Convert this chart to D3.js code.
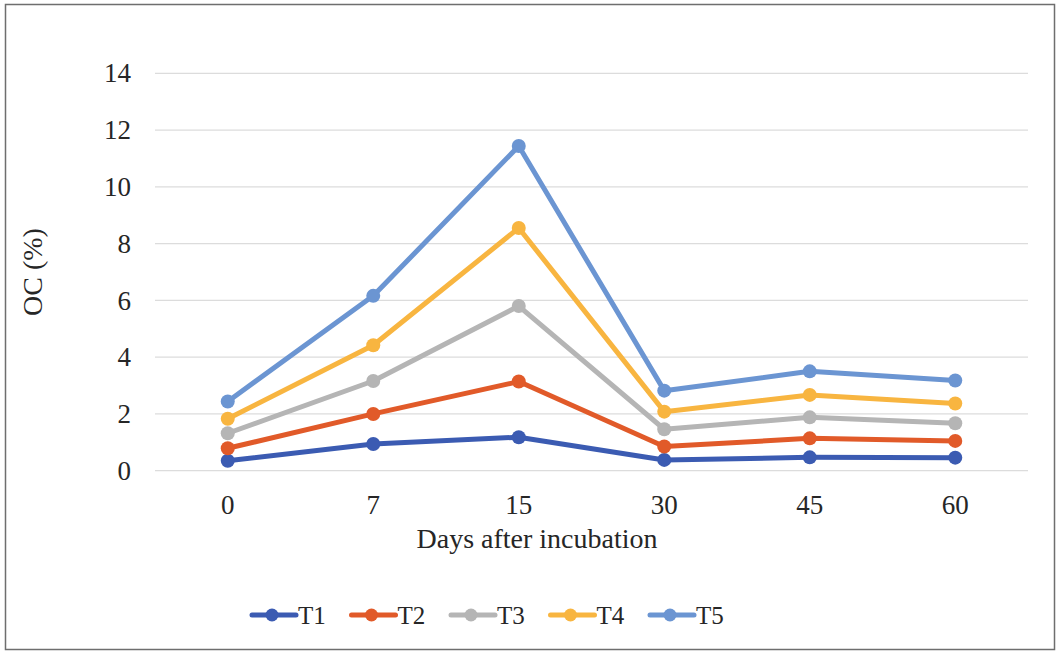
<!DOCTYPE html>
<html>
<head>
<meta charset="utf-8">
<script src="https://cdn.jsdelivr.net/npm/d3@7/dist/d3.min.js"></script>
<style>
  html, body { margin: 0; padding: 0; background: #fff; }
  svg { display: block; }
  text { font-family: "Liberation Serif", "Times New Roman", serif; fill: #262626; }
</style>
</head>
<body>
<svg id="chart" width="1058" height="653"></svg>
<script>
// Days after incubation (categorical x axis)
const days = ["0", "7", "15", "30", "45", "60"];
// Organic carbon (%) per treatment
const seriesNames = ["T1", "T2", "T3", "T4", "T5"];
const t1 = [0.35, 0.94, 1.18, 0.38, 0.47, 0.46];
const t2 = [0.79, 2.00, 3.14, 0.85, 1.14, 1.05];
const t3 = [1.32, 3.16, 5.80, 1.46, 1.88, 1.67];
const t4 = [1.83, 4.42, 8.55, 2.08, 2.67, 2.37];
const t5 = [2.44, 6.16, 11.44, 2.82, 3.50, 3.18];
const yTicks = [0, 2, 4, 6, 8, 10, 12, 14];
const colors = ["#3b5bb2", "#e15a29", "#b5b5b5", "#f8b540", "#6b95d2"];

const seriesValues = [t1, t2, t3, t4, t5];
const series = seriesNames.map((name, i) => ({ name, values: seriesValues[i], color: colors[i] }));

const svg = d3.select("#chart");
const W = 1058, H = 653;

// outer frame
svg.append("rect")
  .attr("x", 5.5).attr("y", 4.5)
  .attr("width", W - 9).attr("height", H - 8)
  .attr("fill", "#fff").attr("stroke", "#6e6e6e").attr("stroke-width", 1.5);

const plot = { left: 155, right: 1028, top: 73.3, bottom: 470.7 };

const x = d3.scaleBand().domain(days).range([plot.left, plot.right]);
const y = d3.scaleLinear().domain([0, 14]).range([plot.bottom, plot.top]);

// horizontal gridlines
svg.append("g")
  .selectAll("line")
  .data(yTicks)
  .join("line")
  .attr("x1", plot.left).attr("x2", plot.right)
  .attr("y1", d => y(d)).attr("y2", d => y(d))
  .attr("stroke", "#dcdcdc").attr("stroke-width", 1.2);

// y axis labels
const yAxis = d3.axisLeft(y).tickValues(yTicks).tickSize(0).tickPadding(0);
const gy = svg.append("g").attr("transform", `translate(131,0)`).call(yAxis);
gy.select(".domain").remove();
gy.selectAll("text")
  .attr("font-family", "Liberation Serif, serif")
  .attr("font-size", 27).attr("fill", "#262626");

// x axis labels
const xAxis = d3.axisBottom(x).tickSize(0).tickPadding(0);
const gx = svg.append("g").attr("transform", `translate(0,${plot.bottom + 24})`).call(xAxis);
gx.select(".domain").remove();
gx.selectAll("text")
  .attr("font-family", "Liberation Serif, serif")
  .attr("font-size", 27).attr("fill", "#262626");

// axis titles
svg.append("text")
  .attr("x", 537).attr("y", 548)
  .attr("text-anchor", "middle").attr("font-size", 28)
  .text("Days after incubation");

svg.append("text")
  .attr("transform", `translate(42,${(plot.top + plot.bottom) / 2}) rotate(-90)`)
  .attr("text-anchor", "middle").attr("font-size", 28)
  .text("OC (%)");

// series lines + markers
const line = d3.line()
  .x((d, i) => x(days[i]) + x.bandwidth() / 2)
  .y(d => y(d));

const gs = svg.append("g")
  .selectAll("g")
  .data(series)
  .join("g");

gs.append("path")
  .attr("d", d => line(d.values))
  .attr("fill", "none")
  .attr("stroke", d => d.color)
  .attr("stroke-width", 5)
  .attr("stroke-linejoin", "round")
  .attr("stroke-linecap", "round");

gs.each(function (s) {
  d3.select(this).selectAll("circle")
    .data(s.values)
    .join("circle")
    .attr("cx", (d, i) => x(days[i]) + x.bandwidth() / 2)
    .attr("cy", d => y(d))
    .attr("r", 7)
    .attr("fill", s.color);
});

// legend
const legend = svg.append("g").attr("transform", "translate(250,615)");
const item = legend.selectAll("g")
  .data(series)
  .join("g")
  .attr("transform", (d, i) => `translate(${i * 99.5},0)`);

item.append("line")
  .attr("x1", 2).attr("x2", 46).attr("y1", 0).attr("y2", 0)
  .attr("stroke", d => d.color).attr("stroke-width", 5)
  .attr("stroke-linecap", "round");
item.append("circle")
  .attr("cx", 22).attr("cy", 0).attr("r", 6.5)
  .attr("fill", d => d.color);
item.append("text")
  .attr("x", 48).attr("y", 9)
  .attr("font-size", 25)
  .text(d => d.name);
</script>
</body>
</html>
